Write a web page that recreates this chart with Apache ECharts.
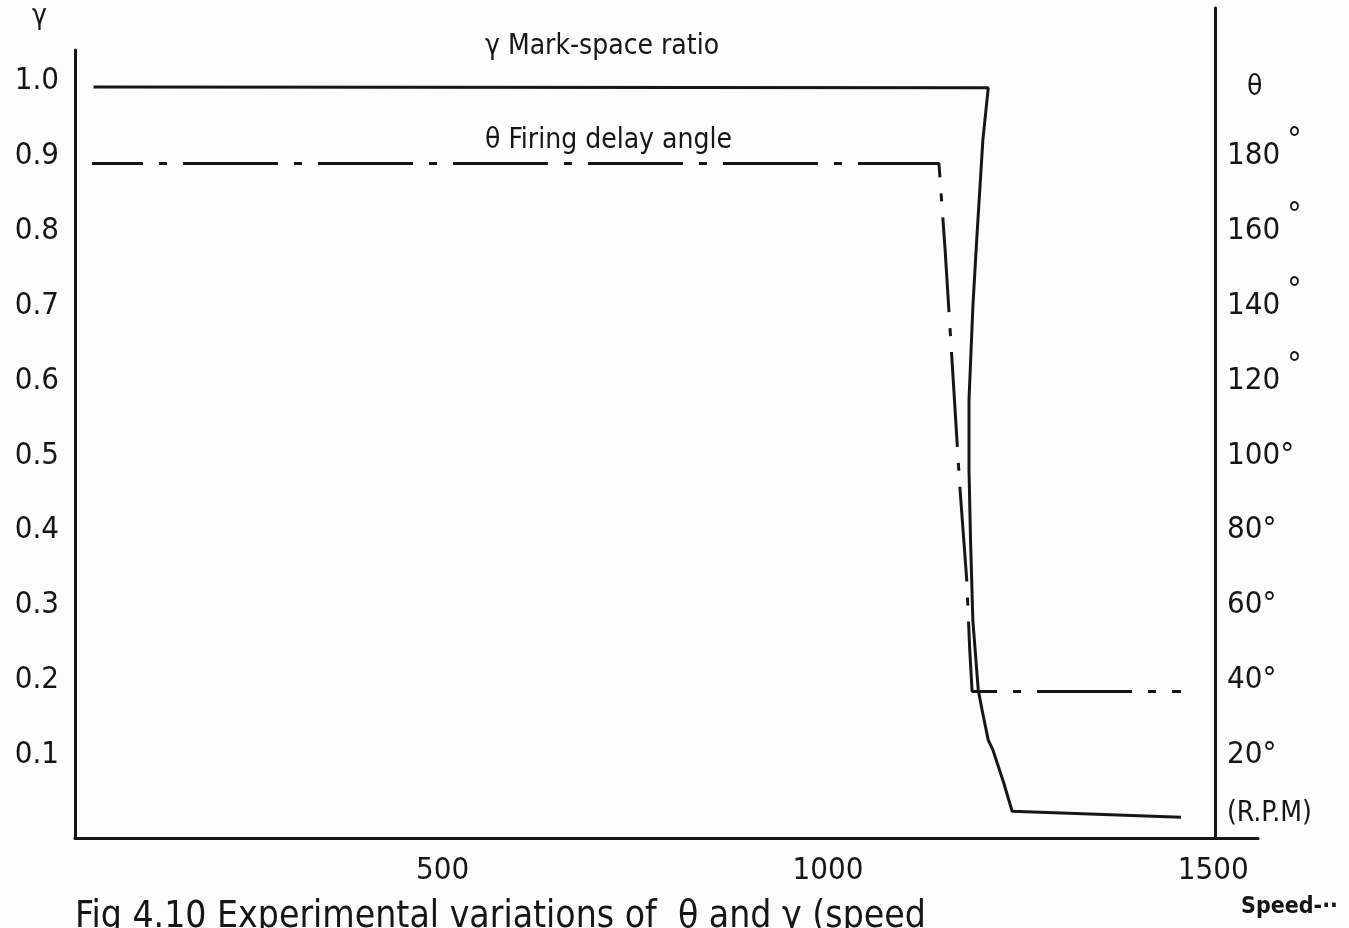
<!DOCTYPE html>
<html>
<head>
<meta charset="utf-8">
<script src="https://cdn.jsdelivr.net/npm/echarts@6/dist/echarts.min.js"></script>
<style>
  html, body { margin: 0; padding: 0; background: #fcfcfc; }
  #chart { width: 1349px; height: 928px; }
</style>
</head>
<body>
<div id="chart"></div>
<script>
// Mark-space ratio γ against speed (R.P.M)
const gammaSpeed  = [47, 1208, 1201, 1193, 1188, 1183, 1183, 1185, 1188, 1195, 1200, 1208, 1214, 1228, 1239, 1458];
const gammaValues = [0.992, 0.991, 0.921, 0.788, 0.698, 0.574, 0.481, 0.387, 0.280, 0.187, 0.160, 0.120, 0.107, 0.063, 0.025, 0.017];

// Firing delay angle θ (degrees) against speed (R.P.M)
const thetaSpeed  = [45, 1144, 1152, 1162, 1171, 1180, 1184, 1187, 1458];
const thetaValues = [178, 178, 155, 122, 92, 67, 48, 37, 37];

// Tick labels
const speedTicks = [500, 1000, 1500];
const gammaTicks = [0.1, 0.2, 0.3, 0.4, 0.5, 0.6, 0.7, 0.8, 0.9, 1.0];
const thetaTicks = [20, 40, 60, 80, 100, 120, 140, 160, 180];

const FONT = "'DejaVu Sans Condensed', 'DejaVu Sans', sans-serif";
const INK = '#161616';

const pairs = (xs, ys) => xs.map((x, i) => [x, ys[i]]);

const chart = echarts.init(document.getElementById('chart'), null, { renderer: 'canvas' });

const speedRange = { min: 23, max: 1558 };

chart.setOption({
  backgroundColor: '#fcfcfc',
  animation: false,
  grid: [
    { left: 75, right: 91, top: 50, bottom: 90 },
    { left: 75, right: 91, top: 8, bottom: 90 }
  ],
  xAxis: [
    {
      type: 'value', gridIndex: 0, ...speedRange,
      axisLine: { show: true, onZero: false, lineStyle: { color: INK, width: 3 } },
      axisTick: { show: false },
      splitLine: { show: false },
      axisLabel: {
        customValues: speedTicks,
        formatter: v => String(v),
        margin: 17,
        color: INK, fontFamily: FONT, fontSize: 31
      }
    },
    {
      type: 'value', gridIndex: 1, ...speedRange,
      show: false
    }
  ],
  yAxis: [
    {
      type: 'value', gridIndex: 0, min: -0.0107, max: 1.0414,
      position: 'left',
      axisLine: { show: true, onZero: false, lineStyle: { color: INK, width: 3 } },
      axisTick: { show: false },
      splitLine: { show: false },
      axisLabel: {
        customValues: gammaTicks,
        formatter: v => v.toFixed(1),
        margin: 16,
        color: INK, fontFamily: FONT, fontSize: 31
      }
    },
    {
      type: 'value', gridIndex: 1, min: -2.14, max: 219.5,
      position: 'right', offset: -43,
      axisLine: { show: true, onZero: false, lineStyle: { color: INK, width: 3 } },
      axisTick: { show: false },
      splitLine: { show: false },
      axisLabel: {
        customValues: thetaTicks,
        margin: 12,
        color: INK, fontFamily: FONT, fontSize: 31,
        formatter: v => v >= 120 ? '{n|' + v + '}{sup|°}' : '{n|' + v + '°}',
        rich: {
          n: { fontFamily: FONT, fontSize: 31, color: INK, lineHeight: 60 },
          sup: { fontFamily: FONT, fontSize: 32, color: INK, lineHeight: 30, verticalAlign: 'top', padding: [0, 0, 0, 7] }
        }
      }
    }
  ],
  series: [
    {
      name: 'γ Mark-space ratio',
      type: 'line', xAxisIndex: 0, yAxisIndex: 0,
      data: pairs(gammaSpeed, gammaValues),
      showSymbol: false, symbol: 'none', smooth: false,
      lineStyle: { color: INK, width: 3 }
    },
    {
      name: 'θ Firing delay angle',
      type: 'line', xAxisIndex: 1, yAxisIndex: 1,
      data: pairs(thetaSpeed, thetaValues),
      showSymbol: false, symbol: 'none', smooth: false,
      lineStyle: { color: INK, width: 3, type: [95, 16, 8, 16], dashOffset: 44 }
    }
  ],
  graphic: [
    { type: 'text', left: 32, top: 3, style: { text: 'γ', font: "28px " + FONT, fill: INK } },
    { type: 'text', left: 485, top: 33, style: { text: 'γ Mark-space ratio', font: "28px " + FONT, fill: INK } },
    { type: 'text', left: 485, top: 127, style: { text: 'θ Firing delay angle', font: "28px " + FONT, fill: INK } },
    { type: 'text', left: 1247, top: 74, style: { text: 'θ', font: "28px " + FONT, fill: INK } },
    { type: 'text', left: 1227, top: 800, style: { text: '(R.P.M)', font: "28px " + FONT, fill: INK } },
    { type: 'text', left: 1241, top: 896, style: { text: 'Speed-··', font: "bold 23px " + FONT, fill: INK } },
    { type: 'text', left: 75, top: 899, style: { text: 'Fig 4.10 Experimental variations of  θ and γ (speed', font: "37px " + FONT, fill: INK } }
  ]
});
</script>
</body>
</html>
